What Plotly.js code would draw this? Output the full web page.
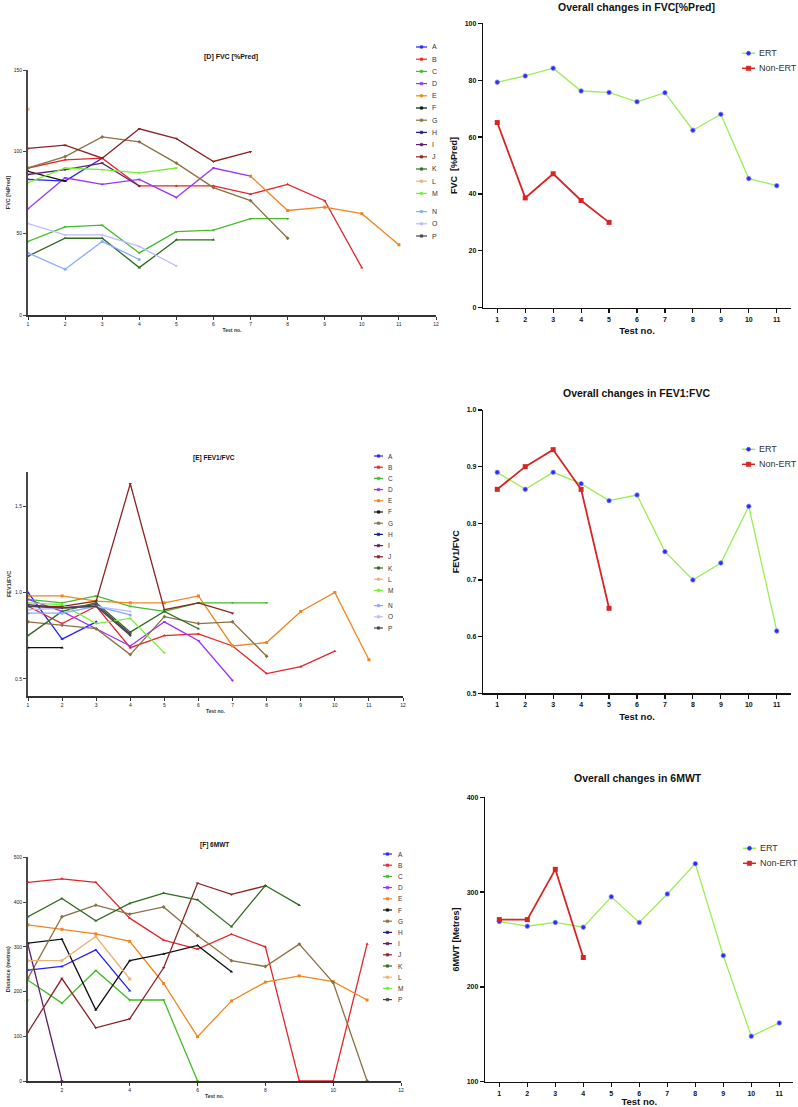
<!DOCTYPE html>
<html><head><meta charset="utf-8">
<script src="https://cdn.plot.ly/plotly-3.0.1.min.js"></script>
<style>html,body{margin:0;padding:0;background:#fff}#chart{width:798px;height:1107px}</style>
</head><body><div id="chart"></div><script>
// ---------------- data ----------------
const testNo = [1,2,3,4,5,6,7,8,9,10,11,12];
const overallTestNo = [1,2,3,4,5,6,7,8,9,10,11];
const patients = ['A','B','C','D','E','F','G','H','I','J','K','L','M','N','O','P'];
const patientColors = ['#2222ff','#e4262b','#46bb2a','#9933ff','#f0861e','#111111','#8b7040','#1c1c8a',
                       '#5e1f6e','#8b2424','#2f6b1f','#e8b478','#77ee33','#88aaff','#bbbbff','#444444'];
const patientSymbols = ['triangle-up','triangle-up','triangle-down','triangle-down','square','triangle-up','diamond','circle',
                        'triangle-down','triangle-down','triangle-up','square','triangle-down','circle','triangle-up','triangle-down'];

// [D] FVC [%Pred], one list per patient A..P (test 1, 2, ...)
const fvcPredByPatient = [
  [83,82,96],
  [90,95,96,79,79,79,74,80,70,29],
  [45,54,55,38,51,52,59,59],
  [65,84,80,83,72,90,85],
  [null,null,null,null,null,null,85,64,66,62,43],
  [88,82],
  [90,97,109,106,93,78,70,47],
  [null],
  [86,89,93,79],
  [102,104,96,114,108,94,100],
  [36,47,47,29,46,46],
  [126],
  [81,90,89,87,90],
  [38,28,45,34],
  [56,49,49,42,30],
  [null]
];
// [E] FEV1/FVC, patients A..P
const fev1FvcByPatient = [
  [1.00,0.73,0.83],
  [0.92,0.82,0.92,0.68,0.75,0.76,0.69,0.53,0.57,0.66],
  [0.96,0.94,0.98,0.92,0.89,0.94,0.94,0.94],
  [0.96,0.89,0.79,0.69,0.83,0.72,0.49],
  [0.98,0.98,0.95,0.94,0.94,0.98,0.69,0.71,0.89,1.00,0.61],
  [0.68,0.68],
  [0.83,0.81,0.79,0.64,0.86,0.82,0.83,0.63],
  [null],
  [0.93,0.91,0.93,0.76],
  [0.92,0.92,0.95,1.63,0.90,0.94,0.88],
  [0.75,0.89,0.94,0.77,0.89,0.79],
  [null],
  [0.94,0.93,0.82,0.85,0.65],
  [0.88,0.88,0.92,0.87],
  [0.90,0.91,0.92,0.89],
  [0.92,0.91,0.92,0.75]
];
// [F] 6MWT distance (metres); this panel lists A..M and P
const sixMwtPatients = ['A','B','C','D','E','F','G','H','I','J','K','L','M','P'];
const sixMwtByPatient = [
  [248,256,293,202],
  [444,452,444,364,315,295,328,300,0,0,306],
  [225,174,247,181,181,0],
  [null],
  [349,339,329,312,218,99,179,221,235,222,181],
  [308,317,159,269,284,303,244],
  [230,367,393,373,389,325,269,256,306,220,0],
  [null],
  [304,0],
  [109,229,119,139,253,442,417,436],
  [367,408,358,397,420,405,345,437,393],
  [269,269,323,228],
  [181],
  [null]
];
// Overall changes (group means)
const groupNames = ['ERT','Non-ERT'];
const ertFvc = [79.3,81.5,84.2,76.2,75.7,72.4,75.6,62.4,68.0,45.4,42.9];
const nonErtFvc = [65.1,38.6,47.1,37.7,30.0];
const ertFev1Fvc = [0.89,0.86,0.89,0.87,0.84,0.85,0.75,0.70,0.73,0.83,0.61];
const nonErtFev1Fvc = [0.86,0.90,0.93,0.86,0.65];
const ert6mwt = [269,264,268,263,295,268,298,330,233,148,162];
const nonErt6mwt = [271,271,324,231];

// ---------------- helpers ----------------
const FONT = 'Liberation Sans, Arial, sans-serif';
const W = 798, H = 1107;
const px = v => v / W;
const py = v => 1 - v / H;
const ertLine = '#99ee55', ertMarker = '#2a2aff', nonErtColor = '#d82424';

function patientTraces(series, names, xa, ya) {
  return series.map((vals, i) => {
    const k = patients.indexOf(names[i]);
    return {type:'scatter', mode:'lines+markers', name:names[i], showlegend:false,
      x: testNo.slice(0, vals.length), y: vals, xaxis: xa, yaxis: ya,
      line:{color:patientColors[k], width:1.3},
      marker:{size:3, color:patientColors[k], symbol:patientSymbols[k]},
      connectgaps:false, cliponaxis:false, hoverinfo:'x+y+name'};
  });
}
function groupTraces(ertVals, nonVals, xa, ya) {
  return [
    {type:'scatter', mode:'lines+markers', name:groupNames[0], showlegend:false,
     x: overallTestNo.slice(0, ertVals.length), y: ertVals, xaxis:xa, yaxis:ya,
     line:{color:ertLine, width:1.3},
     marker:{symbol:'circle', size:4.5, color:ertMarker, line:{color:'#8888ff', width:0.8}}, cliponaxis:false},
    {type:'scatter', mode:'lines+markers', name:groupNames[1], showlegend:false,
     x: overallTestNo.slice(0, nonVals.length), y: nonVals, xaxis:xa, yaxis:ya,
     line:{color:nonErtColor, width:1.8},
     marker:{symbol:'square', size:5, color:nonErtColor}, cliponaxis:false}
  ];
}

const shapes = [];
const annotations = [];
function addText(text, x, y, size, opts) {
  annotations.push(Object.assign({text, x:px(x), y:py(y), xref:'paper', yref:'paper',
    showarrow:false, xanchor:'center', yanchor:'middle', borderpad:0,
    font:{family:FONT, size, color:'#111'}}, opts || {}));
}
function legendRow(name, color, mcolor, msym, x0, len, tx, y, size, mk) {
  shapes.push({type:'line', xref:'paper', yref:'paper', x0:px(x0), x1:px(x0+len), y0:py(y), y1:py(y),
    line:{color, width: mk > 3 ? 1.5 : 1.2}});
  const c = x0 + len/2, h = mk/2;
  shapes.push({type: msym === 'circle' ? 'circle' : 'rect', xref:'paper', yref:'paper',
    x0:px(c-h), x1:px(c+h), y0:py(y+h), y1:py(y-h), fillcolor:mcolor, line:{color:mcolor, width:0.5}});
  addText(name, tx, y, size, {xanchor:'left', font:{family:FONT, size, color:'#333'}});
}
function patientLegend(names, x0, len, tx, y0, step, gapAt, gap, size) {
  names.forEach((n, i) => {
    const k = patients.indexOf(n);
    const y = y0 + i*step + (gapAt >= 0 && i >= gapAt ? gap : 0);
    legendRow(n, patientColors[k], patientColors[k], 'rect', x0, len, tx, y, size, 2.5);
  });
}
function groupLegend(x0, len, tx, y0, step) {
  legendRow(groupNames[0], ertLine, ertMarker, 'circle', x0, len, tx, y0, 9, 4);
  legendRow(groupNames[1], nonErtColor, nonErtColor, 'rect', x0, len, tx, y0+step, 9, 4.5);
}

function leftX(d, anchor, dtick) {
  return {domain:d, anchor, range:[1,12], tickmode:'linear', tick0: dtick === 2 ? 0 : 1, dtick,
    ticks:'outside', ticklen:3, tickwidth:1, tickcolor:'#333', showline:true, linecolor:'#333', linewidth:1.5,
    showgrid:false, zeroline:false, tickfont:{family:FONT, size:5, color:'#222'},
    title:{text:'Test no.', font:{family:FONT, size:5, color:'#333', weight:'bold'}, standoff:3}};
}
function leftY(d, anchor, range, tickvals, fmt, title) {
  return {domain:d, anchor, range, tickmode:'array', tickvals, tickformat:fmt,
    ticks:'outside', ticklen:3, tickwidth:1, tickcolor:'#444', showline:true, linecolor:'#4a4a4a', linewidth:2,
    showgrid:false, zeroline:false, tickfont:{family:FONT, size:5, color:'#222'},
    title:{text:title, font:{family:FONT, size:5.5, color:'#333', weight:'bold'}, standoff:3}};
}
function rightX(d, anchor) {
  return {domain:d, anchor, range:[0.5,11.5], tickmode:'array', tickvals:overallTestNo,
    ticks:'outside', ticklen:4, tickwidth:1.2, tickcolor:'#111', showline:true, linecolor:'#111', linewidth:1.5,
    showgrid:false, zeroline:false, tickfont:{family:FONT, size:7, color:'#111', weight:'bold'},
    title:{text:'Test no.', font:{family:FONT, size:9.5, color:'#111', weight:'bold'}, standoff:6}};
}
function rightY(d, anchor, range, dtick, fmt, title) {
  return {domain:d, anchor, range, tickmode:'linear', tick0:range[0], dtick, tickformat:fmt,
    ticks:'outside', ticklen:4, tickwidth:1.2, tickcolor:'#111', showline:true, linecolor:'#111', linewidth:1.5,
    showgrid:false, zeroline:false, tickfont:{family:FONT, size:7, color:'#111', weight:'bold'},
    title:{text:title, font:{family:FONT, size:9, color:'#111', weight:'bold'}, standoff:5}};
}

// ---------------- traces ----------------
const traces = [].concat(
  patientTraces(fvcPredByPatient, patients, 'x', 'y'),
  groupTraces(ertFvc, nonErtFvc, 'x2', 'y2'),
  patientTraces(fev1FvcByPatient, patients, 'x3', 'y3'),
  groupTraces(ertFev1Fvc, nonErtFev1Fvc, 'x4', 'y4'),
  patientTraces(sixMwtByPatient, sixMwtPatients, 'x5', 'y5'),
  groupTraces(ert6mwt, nonErt6mwt, 'x6', 'y6')
);

// ---------------- titles & legends ----------------
addText('[D] FVC [%Pred]', 231, 57, 7, {font:{family:FONT, size:7, color:'#111', weight:'bold'}});
addText('[E] FEV1/FVC', 214, 458, 6.5, {font:{family:FONT, size:6.5, color:'#111', weight:'bold'}});
addText('[F] 6MWT', 214, 845, 6.5, {font:{family:FONT, size:6.5, color:'#111', weight:'bold'}});
addText('Overall changes in FVC[%Pred]', 636, 7, 10.5, {font:{family:FONT, size:10.5, color:'#111', weight:'bold'}});
addText('Overall changes in FEV1:FVC', 636, 393, 10.5, {font:{family:FONT, size:10.5, color:'#111', weight:'bold'}});
addText('Overall changes in 6MWT', 638, 778, 10.5, {font:{family:FONT, size:10.5, color:'#111', weight:'bold'}});

patientLegend(patients, 416, 11, 431, 47, 12.2, 13, 6, 7);
patientLegend(patients, 374, 9, 387, 456, 11.2, 13, 4, 6.5);
patientLegend(sixMwtPatients, 383, 9, 397, 854, 11.2, -1, 0, 6.5);
groupLegend(742, 13, 758, 53.3, 15);
groupLegend(742, 13, 758, 449.3, 15);
groupLegend(743, 13, 759, 848.3, 15);

const layout = {
  width: W, height: H, margin:{l:0, r:0, t:0, b:0}, paper_bgcolor:'#fff', plot_bgcolor:'#fff',
  showlegend:false, font:{family:FONT},
  xaxis: leftX([px(28), px(436)], 'y', 1),
  yaxis: leftY([py(315), py(70)], 'x', [0,150], [0,50,100,150], 'd', 'FVC [%Pred]'),
  xaxis2: rightX([px(483.3), px(790.7)], 'y2'),
  yaxis2: rightY([py(307.7), py(23.3)], 'x2', [0,100], 20, 'd', 'FVC  [%Pred]'),
  xaxis3: leftX([px(28), px(403)], 'y3', 1),
  yaxis3: leftY([py(696), py(471.7)], 'x3', [0.4,1.7], [0.5,1.0,1.5], '.1f', 'FEV1/FVC'),
  xaxis4: rightX([px(483.3), px(790.7)], 'y4'),
  yaxis4: rightY([py(693.3), py(410)], 'x4', [0.5,1.0], 0.1, '.1f', 'FEV1/FVC'),
  xaxis5: leftX([px(28), px(401)], 'y5', 2),
  yaxis5: leftY([py(1081), py(857.3)], 'x5', [0,500], [0,100,200,300,400,500], 'd', 'Distance (metres)'),
  xaxis6: rightX([px(485.3), px(793.3)], 'y6'),
  yaxis6: rightY([py(1081.7), py(797.3)], 'x6', [100,400], 100, 'd', '6MWT [Metres]'),
  shapes, annotations
};
Plotly.newPlot('chart', traces, layout, {displayModeBar:false, staticPlot:true});
</script></body></html>
